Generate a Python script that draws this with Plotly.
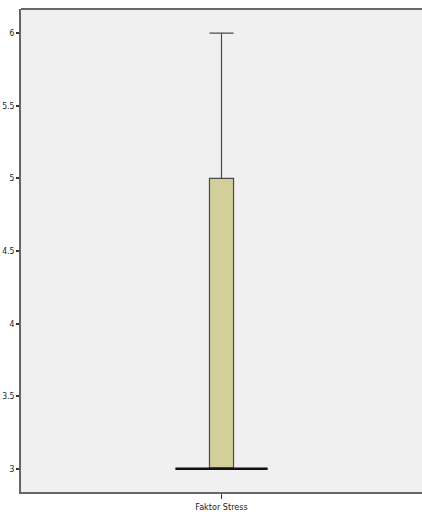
import plotly.graph_objects as go

# Box-plot summary for the single variable
categories = ["Faktor Stress"]
lower_fence = [3]
q1 = [3]
median = [3]
q3 = [5]
upper_fence = [6]

y_ticks = [3, 3.5, 4, 4.5, 5, 5.5, 6]
y_tick_text = ["3", "3.5", "4", "4.5", "5", "5.5", "6"]

FONT = "DejaVu Sans Condensed, Liberation Sans Narrow, sans-serif"
pos = [0]

fig = go.Figure()
fig.add_trace(go.Box(
    x=pos,
    q1=q1, median=median, q3=q3,
    lowerfence=lower_fence, upperfence=upper_fence,
    width=0.06,
    whiskerwidth=1,
    fillcolor="#D3CF9B",
    line=dict(color="#4a4a4a", width=1.2),
    boxpoints=False,
    hoverinfo="skip",
    showlegend=False,
))
# Emphasised median bar
fig.add_trace(go.Scatter(
    x=[pos[0] - 0.115, pos[0] + 0.115],
    y=[median[0], median[0]],
    mode="lines",
    line=dict(color="#111111", width=2.5),
    hoverinfo="skip",
    showlegend=False,
))

fig.update_layout(
    width=422, height=519,
    margin=dict(l=21, r=0, t=9, b=27),
    paper_bgcolor="white",
    plot_bgcolor="#F0F0F0",
    font=dict(family=FONT, size=9, color="#222222"),
    xaxis=dict(
        range=[-0.5, 0.5],
        tickvals=pos, ticktext=categories,
        ticks="outside", ticklen=5, tickcolor="#333333", tickwidth=1,
        showline=True, linecolor="#666666", linewidth=2,
        showgrid=False, zeroline=False, automargin=False,
        tickfont=dict(family=FONT, size=9),
    ),
    yaxis=dict(
        range=[2.84, 6.166],
        tickvals=y_ticks, ticktext=y_tick_text,
        ticks="outside", ticklen=3, tickcolor="#333333", tickwidth=2,
        showline=True, linecolor="#666666", linewidth=2,
        showgrid=False, zeroline=False, automargin=False,
        tickfont=dict(family=FONT, size=8.5),
    ),
)
# Top frame line
fig.add_shape(type="line", xref="paper", yref="paper", x0=0, x1=1, y0=1, y1=1,
              line=dict(color="#666666", width=2))

fig.write_html("out.html")
